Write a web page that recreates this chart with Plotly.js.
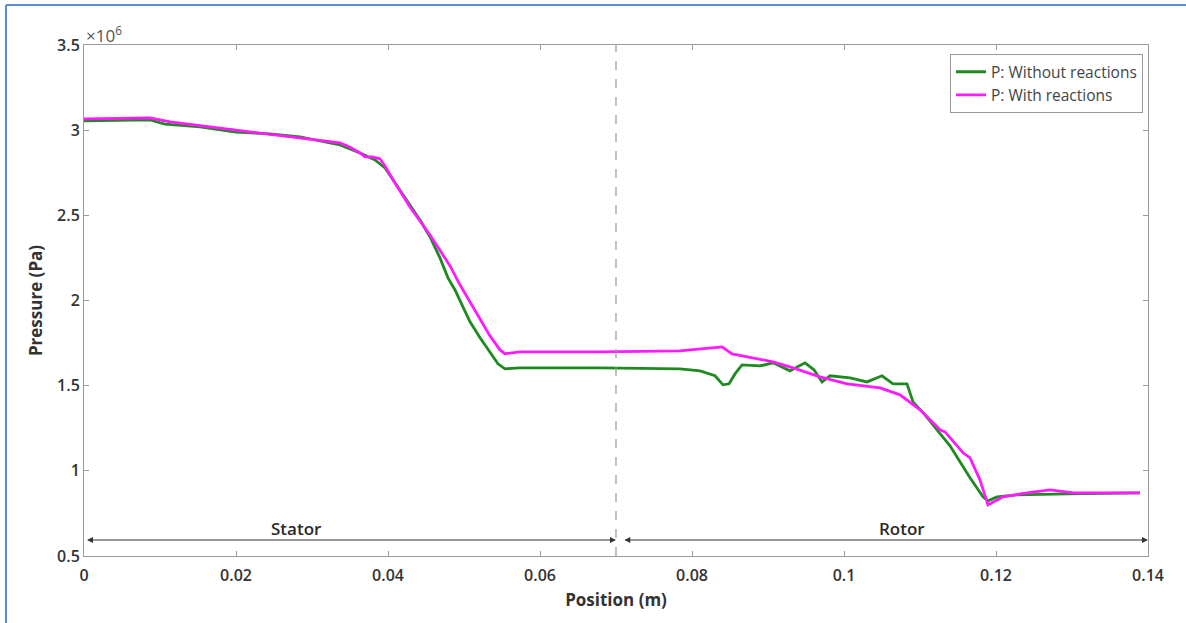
<!DOCTYPE html>
<html>
<head>
<meta charset="utf-8">
<script src="https://cdn.plot.ly/plotly-3.0.1.min.js"></script>
<style>
  html, body { margin: 0; padding: 0; background: #fff; }
  #chart { width: 1186px; height: 623px; }
</style>
</head>
<body>
<div id="chart"></div>
<script>
// Position (m) and pressure (x10^6 Pa)
const xWithout = [0, 0.00868, 0.01066, 0.01526, 0.02, 0.02447, 0.02842, 0.03105, 0.03368, 0.03632, 0.03829, 0.03961, 0.04092, 0.04224, 0.04421, 0.04553, 0.04684, 0.04789, 0.04882, 0.04974, 0.05079, 0.05211, 0.05342, 0.05447, 0.05539, 0.05737, 0.06789, 0.07842, 0.08105, 0.08303, 0.08408, 0.08487, 0.08566, 0.08658, 0.08895, 0.09066, 0.09289, 0.09487, 0.09605, 0.09711, 0.09816, 0.10079, 0.10303, 0.105, 0.10645, 0.10829, 0.10908, 0.11066, 0.11224, 0.11395, 0.11526, 0.11658, 0.11829, 0.11895, 0.12013, 0.12276, 0.12934, 0.13895];
const pWithout = [3.054, 3.060, 3.036, 3.019, 2.989, 2.978, 2.960, 2.937, 2.913, 2.866, 2.825, 2.778, 2.690, 2.608, 2.473, 2.373, 2.250, 2.133, 2.062, 1.974, 1.875, 1.781, 1.699, 1.628, 1.599, 1.604, 1.604, 1.599, 1.587, 1.558, 1.505, 1.511, 1.569, 1.622, 1.616, 1.634, 1.587, 1.634, 1.593, 1.522, 1.558, 1.546, 1.522, 1.558, 1.511, 1.511, 1.405, 1.329, 1.241, 1.147, 1.053, 0.959, 0.847, 0.824, 0.847, 0.859, 0.865, 0.871];

const xWith = [0, 0.00868, 0.01132, 0.02, 0.02579, 0.03105, 0.03368, 0.035, 0.03632, 0.03697, 0.03789, 0.03895, 0.03961, 0.04092, 0.04289, 0.04553, 0.04684, 0.04816, 0.04947, 0.05079, 0.05211, 0.05342, 0.05474, 0.05539, 0.05737, 0.06789, 0.07842, 0.08395, 0.08526, 0.09066, 0.09329, 0.09684, 0.10039, 0.10474, 0.10737, 0.11, 0.11263, 0.11329, 0.11566, 0.11658, 0.11789, 0.11895, 0.11947, 0.12092, 0.12408, 0.12711, 0.13013, 0.13895];
const pWith = [3.066, 3.072, 3.048, 3.001, 2.972, 2.942, 2.925, 2.900, 2.866, 2.843, 2.843, 2.832, 2.790, 2.690, 2.549, 2.385, 2.297, 2.203, 2.092, 1.992, 1.898, 1.792, 1.710, 1.687, 1.698, 1.698, 1.704, 1.728, 1.687, 1.640, 1.604, 1.552, 1.511, 1.487, 1.446, 1.358, 1.241, 1.229, 1.106, 1.076, 0.947, 0.800, 0.812, 0.847, 0.871, 0.888, 0.871, 0.871];

const seriesNames = ['P: Without reactions', 'P: With reactions'];
const xTicks = [0, 0.02, 0.04, 0.06, 0.08, 0.1, 0.12, 0.14];
const xTickText = ['0', '0.02', '0.04', '0.06', '0.08', '0.1', '0.12', '0.14'];
const yTicks = [0.5, 1, 1.5, 2, 2.5, 3, 3.5];
const yTickText = ['0.5', '1', '1.5', '2', '2.5', '3', '3.5'];
const boundaryX = 0.07;
const stator = [0, 0.07];
const rotor = [0.0707, 0.14];
const arrowY = 0.594;

const fontFam = '"Open Sans", "DejaVu Sans", sans-serif';
const txtColor = '#333333';

const traces = [
  { x: xWithout, y: pWithout, name: seriesNames[0], mode: 'lines',
    line: { color: '#1f8a1f', width: 2.8 } },
  { x: xWith, y: pWith, name: seriesNames[1], mode: 'lines',
    line: { color: '#ff1aff', width: 2.8 } }
];

const axisCommon = {
  showline: true, linecolor: '#9a9a9a', linewidth: 1, mirror: 'allticks',
  ticks: 'inside', ticklen: 5, tickcolor: '#9a9a9a', showgrid: false, zeroline: false,
  tickfont: { family: fontFam, size: 16, color: txtColor, weight: 600 }
};

const layout = {
  width: 1186, height: 623,
  margin: { l: 84, r: 38, t: 45, b: 67 },
  paper_bgcolor: '#ffffff', plot_bgcolor: '#ffffff',
  showlegend: true,
  legend: {
    x: 0.9953, xanchor: 'right', y: 0.982, yanchor: 'top',
    bgcolor: '#ffffff', bordercolor: '#9a9a9a', borderwidth: 1,
    font: { family: fontFam, size: 15.5, color: '#444' },
    tracegroupgap: 0, itemwidth: 30
  },
  xaxis: Object.assign({}, axisCommon, {
    range: [0, 0.14], tickvals: xTicks, ticktext: xTickText, ticklabelstandoff: 5,
    title: { text: 'Position (m)', standoff: 8,
      font: { family: fontFam, size: 17, color: txtColor, weight: 700 } }
  }),
  yaxis: Object.assign({}, axisCommon, {
    range: [0.5, 3.5], tickvals: yTicks, ticktext: yTickText,
    title: { text: 'Pressure (Pa)', standoff: 10,
      font: { family: fontFam, size: 17, color: txtColor, weight: 700 } }
  }),
  shapes: [
    { type: 'line', xref: 'x', yref: 'paper', x0: boundaryX, x1: boundaryX, y0: 0, y1: 1,
      line: { color: '#999999', width: 1.2, dash: 'dash' } },
    // figure frame (blue border top and left)
    { type: 'line', xref: 'paper', yref: 'paper', x0: -0.0733, x1: 1.04, y0: 1.0783, y1: 1.0783,
      line: { color: '#5b8bd0', width: 2 } },
    { type: 'line', xref: 'paper', yref: 'paper', x0: -0.0733, x1: -0.0733, y0: -0.14, y1: 1.0783,
      line: { color: '#5b8bd0', width: 2 } }
  ],
  annotations: [
    { xref: 'paper', yref: 'paper', x: 0, y: 1, xanchor: 'left', yanchor: 'bottom', yshift: -4,
      text: '×10<sup>6</sup>', showarrow: false,
      font: { family: fontFam, size: 17, color: '#555' } },
    // Stator arrow
    { xref: 'x', yref: 'y', axref: 'x', ayref: 'y', x: stator[1], y: arrowY, ax: stator[0], ay: arrowY,
      showarrow: true, arrowhead: 2, arrowside: 'end+start', arrowsize: 1, arrowwidth: 1.2,
      arrowcolor: '#333', text: ' ', standoff: 0, startstandoff: 0 },
    { xref: 'x', yref: 'y', axref: 'x', ayref: 'y', x: rotor[1], y: arrowY, ax: rotor[0], ay: arrowY,
      showarrow: true, arrowhead: 2, arrowside: 'end+start', arrowsize: 1, arrowwidth: 1.2,
      arrowcolor: '#333', text: ' ', standoff: 0, startstandoff: 0 },
    { xref: 'x', yref: 'y', x: 0.0279, y: arrowY, yanchor: 'bottom', yshift: -2,
      text: 'Stator', showarrow: false,
      font: { family: fontFam, size: 17, color: '#2a2a2a', weight: 600 } },
    { xref: 'x', yref: 'y', x: 0.1076, y: arrowY, yanchor: 'bottom', yshift: -2,
      text: 'Rotor', showarrow: false,
      font: { family: fontFam, size: 17, color: '#2a2a2a', weight: 600 } }
  ]
};

Plotly.newPlot('chart', traces, layout, { displayModeBar: false, staticPlot: true });
</script>
</body>
</html>
